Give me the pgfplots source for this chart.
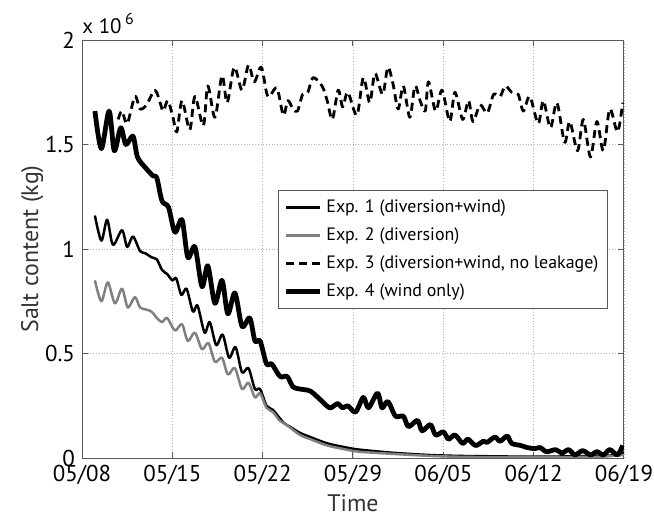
\documentclass[border=0pt]{standalone}
\usepackage{fontspec}
\setmainfont{PT Sans}
\usepackage{pgfplots}
\pgfplotsset{compat=1.18}
\definecolor{axgray}{gray}{0.35}
\definecolor{txt}{gray}{0.2}
\definecolor{exptwo}{gray}{0.5}
\begin{document}
\begin{tikzpicture}
\path[use as bounding box] (-41bp,-31bp) rectangle (286bp,229bp);
\begin{axis}[
  name=ax,
  at={(0,0)}, anchor=south west,
  scale only axis, width=271bp, height=209bp,
  xmin=0, xmax=42, ymin=0, ymax=2,
  xtick={0,7,14,21,28,35,42},
  xticklabels={05/08,05/15,05/22,05/29,06/05,06/12,06/19},
  ytick={0,0.5,1,1.5,2},
  yticklabels={0,0.5,1,1.5,2},
  grid=major,
  major grid style={densely dotted, gray!60, line width=0.4pt},
  tick align=inside,
  major tick length=3bp,
  axis line style={axgray, line width=0.5pt},
  tick style={axgray, line width=0.5pt},
  xlabel={Time}, ylabel={Salt content (kg)},
  label style={font=\fontsize{12}{14}\selectfont, text=txt},
  tick label style={font=\fontsize{11.5}{13}\selectfont, text=black},
  xlabel style={yshift=2bp},
  ylabel style={yshift=-6bp},
  legend cell align=left,
  legend style={at={(0.362,0.641)}, anchor=north west, draw=axgray,
    font=\fontsize{9}{11}\selectfont, row sep=2.2bp, inner sep=2.5bp},
  every axis plot/.append style={smooth, tension=0.5, line join=round},
]
\addplot[black, line width=1.25bp] coordinates {
(1.0,1.16)(1.5,1.04)(1.95,1.14)(2.4,1.02)(3.1,1.09)(3.5,1.01)(3.95,1.06)(4.5,0.99)(4.9,0.98)(5.4,0.96)(5.8,0.95)(6.2,0.90)(6.6,0.88)(7.0,0.85)(7.3,0.86)(7.7,0.78)(8.1,0.81)(8.6,0.70)(8.95,0.73)(9.5,0.60)(9.9,0.65)(10.4,0.54)(10.9,0.59)(11.4,0.48)(11.9,0.53)(12.4,0.41)(12.9,0.43)(13.4,0.33)(13.8,0.33)(14.3,0.25)(14.8,0.23)(15.6,0.17)(16.1,0.15)(16.9,0.12)(17.7,0.10)(19.0,0.07)(20.5,0.05)(21.5,0.04)(24.1,0.025)(26.7,0.015)(29.2,0.01)(32,0.008)(35,0.006)(38,0.008)(40,0.01)(41,0.012)(42,0.025)
};
\addlegendentry{Exp. 1 (diversion+wind)}
\addplot[exptwo, line width=1.25bp] coordinates {
(1.0,0.85)(1.5,0.75)(2.0,0.84)(2.55,0.74)(3.1,0.81)(3.55,0.72)(4.1,0.77)(4.5,0.72)(5.0,0.71)(5.4,0.70)(5.8,0.67)(6.2,0.65)(6.6,0.67)(7.2,0.61)(7.75,0.64)(8.2,0.56)(8.75,0.60)(9.3,0.52)(9.8,0.55)(10.3,0.46)(10.85,0.48)(11.3,0.40)(11.85,0.43)(12.4,0.33)(12.9,0.36)(13.4,0.29)(13.8,0.31)(14.3,0.24)(14.8,0.22)(15.3,0.18)(15.8,0.16)(16.9,0.11)(17.7,0.09)(19.0,0.06)(20.5,0.04)(21.5,0.03)(24,0.02)(27,0.01)(30,0.005)(35,0.004)(40,0.006)(42,0.015)
};
\addlegendentry{Exp. 2 (diversion)}
\addplot[black, line width=1.4bp, dash pattern=on 4bp off 2.5bp] coordinates {
(2.8,1.62)(3.1,1.66)(3.5,1.60)(4.1,1.73)(4.5,1.67)(5.0,1.69)(5.65,1.76)(6.05,1.70)(6.3,1.66)(6.65,1.71)(7.05,1.63)(7.35,1.56)(7.75,1.71)(8.35,1.57)(8.75,1.73)(9.4,1.59)(9.75,1.78)(10.3,1.63)(10.85,1.83)(11.25,1.70)(11.8,1.87)(12.4,1.76)(12.9,1.88)(13.35,1.80)(13.9,1.87)(14.4,1.73)(15.1,1.77)(15.6,1.64)(15.95,1.71)(16.35,1.67)(16.7,1.66)(17.1,1.74)(17.5,1.75)(17.9,1.82)(18.6,1.78)(19.0,1.71)(19.4,1.62)(19.85,1.76)(20.2,1.68)(20.6,1.75)(21.3,1.64)(21.8,1.82)(22.3,1.70)(22.7,1.84)(23.3,1.74)(23.7,1.87)(24.1,1.79)(24.5,1.67)(24.9,1.78)(25.4,1.63)(25.8,1.78)(26.2,1.71)(26.6,1.66)(26.85,1.80)(27.4,1.66)(27.9,1.76)(28.5,1.61)(28.9,1.75)(29.5,1.62)(29.95,1.71)(30.3,1.61)(30.85,1.69)(31.4,1.65)(31.9,1.74)(32.4,1.73)(32.8,1.78)(33.3,1.75)(33.8,1.74)(34.2,1.66)(34.7,1.73)(35.35,1.60)(35.75,1.71)(36.3,1.58)(36.8,1.70)(37.4,1.51)(37.8,1.61)(38.4,1.47)(38.85,1.62)(39.4,1.44)(39.9,1.61)(40.4,1.47)(40.9,1.67)(41.5,1.56)(41.9,1.70)
};
\addlegendentry{Exp. 3 (diversion+wind, no leakage)}
\addplot[black, line width=2.4bp] coordinates {
(1.0,1.66)(1.5,1.48)(2.1,1.66)(2.5,1.47)(3.0,1.58)(3.4,1.50)(3.95,1.54)(4.3,1.44)(4.9,1.39)(5.5,1.35)(5.8,1.34)(6.2,1.23)(6.7,1.20)(7.2,1.08)(7.75,1.14)(8.2,0.96)(8.75,1.01)(9.3,0.82)(9.75,0.92)(10.3,0.74)(10.85,0.85)(11.3,0.69)(11.85,0.79)(12.4,0.63)(13.0,0.67)(13.4,0.56)(13.8,0.56)(14.3,0.45)(14.7,0.45)(15.35,0.39)(15.9,0.39)(16.35,0.34)(16.9,0.33)(17.7,0.32)(18.45,0.28)(19.2,0.24)(19.8,0.26)(20.2,0.24)(20.6,0.25)(21.2,0.22)(21.8,0.29)(22.2,0.24)(22.9,0.31)(23.25,0.24)(23.7,0.27)(24.3,0.20)(24.9,0.20)(25.3,0.15)(26.0,0.18)(26.35,0.13)(27.0,0.16)(27.4,0.11)(28.0,0.125)(28.4,0.09)(28.9,0.11)(29.5,0.07)(29.9,0.09)(30.5,0.06)(31.1,0.08)(31.4,0.075)(32.0,0.10)(32.4,0.08)(32.95,0.105)(33.3,0.07)(34.0,0.06)(34.5,0.05)(35.1,0.045)(35.5,0.05)(36.0,0.03)(36.7,0.04)(37.2,0.024)(37.7,0.04)(38.2,0.015)(38.8,0.035)(39.4,0.015)(39.9,0.03)(40.4,0.015)(40.9,0.04)(41.5,0.015)(41.9,0.06)
};
\addlegendentry{Exp. 4 (wind only)}
\end{axis}
\node[anchor=south west, inner sep=0pt, font=\fontsize{10.5}{12}\selectfont, text=black] at ([yshift=3bp]ax.north west) {x 10\,\raisebox{4.5bp}{\fontsize{8}{9}\selectfont 6}};
\end{tikzpicture}
\end{document}
